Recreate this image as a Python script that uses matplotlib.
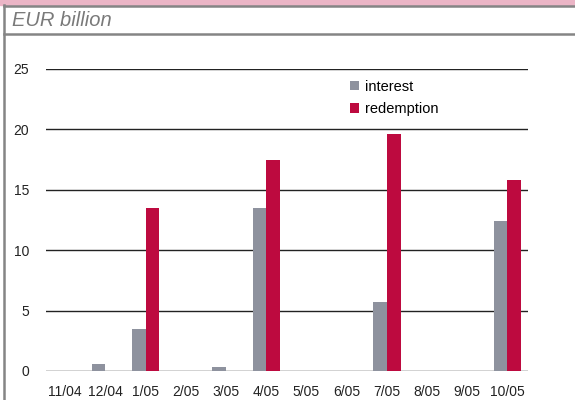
import numpy as np
import matplotlib
matplotlib.use("Agg")
import matplotlib.pyplot as plt
from matplotlib.patches import Rectangle
from matplotlib.lines import Line2D

# ===== data (EUR billion) =====
months = ["11/04", "12/04", "1/05", "2/05", "3/05", "4/05",
          "5/05", "6/05", "7/05", "8/05", "9/05", "10/05"]
interest = [0.0, 0.55, 3.45, 0.0, 0.33, 13.5, 0.0, 0.0, 5.7, 0.0, 0.0, 12.4]
redemption = [0.0, 0.0, 13.5, 0.0, 0.0, 17.5, 0.0, 0.0, 19.6, 0.0, 0.0, 15.8]
yticks = [0, 5, 10, 15, 20, 25]

# ===== colours =====
c_int = "#8e929e"
c_red = "#bd0a3f"
c_frame = "#858585"
c_band = "#ebb5c6"

plt.rcParams['font.family'] = ['Liberation Sans Narrow', 'Liberation Sans', 'DejaVu Sans']

fig = plt.figure(figsize=(5.75, 4.0), dpi=100)
W, H = 575, 400

# ===== frame: pink band, grey rules =====
fig.patches.append(Rectangle((0, 1 - 5 / H), 1, 5 / H, transform=fig.transFigure,
                             color=c_band, zorder=0))
for yy in (6, 34):
    fig.add_artist(Line2D([3.5 / W, 1], [1 - yy / H] * 2, transform=fig.transFigure,
                          color=c_frame, lw=1.8))
fig.add_artist(Line2D([3.5 / W] * 2, [0, 1 - 5 / H], transform=fig.transFigure,
                      color=c_frame, lw=1.8))

fig.text(12 / W, 1 - 20.5 / H, "EUR billion", fontsize=14.5, style='italic',
         color="#7a7a7a", va='center', ha='left', family=['Liberation Sans', 'DejaVu Sans'])

# ===== chart =====
ax = fig.add_axes([46 / W, 1 - 371 / H, (528 - 46) / W, (371 - 69) / H])
x = np.arange(len(months))
w = 0.34
ax.bar(x - w / 2, interest, w, color=c_int, label="interest", zorder=3)
ax.bar(x + w / 2, redemption, w, color=c_red, label="redemption", zorder=3)

ax.set_xlim(-0.48, 11.51)
ax.set_ylim(0, 25)
ax.set_yticks(yticks)
ax.set_xticks(x)
ax.set_xticklabels(months)
ax.yaxis.grid(True, color="#222222", lw=1.0, zorder=1)
ax.set_axisbelow(True)
for s in ax.spines.values():
    s.set_visible(False)
ax.tick_params(axis='both', length=0, labelsize=10, colors="#222222")
ax.tick_params(axis='y', pad=12)
ax.tick_params(axis='x', pad=10)

leg = ax.legend(loc='upper left', bbox_to_anchor=(350 / W, 1 - 80 / H),
                bbox_transform=fig.transFigure, frameon=False, fontsize=10.5,
                handlelength=0.6, handleheight=0.6, handletextpad=0.4,
                labelspacing=0.55, borderpad=0, borderaxespad=0)

fig.savefig("out.png", dpi=100)
